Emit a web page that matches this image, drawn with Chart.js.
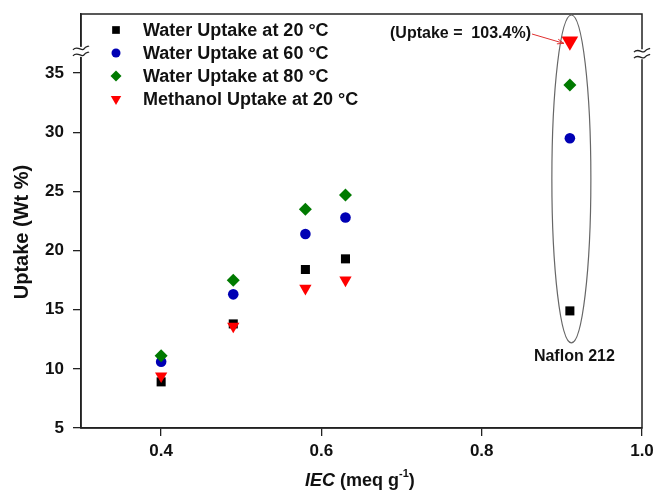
<!DOCTYPE html>
<html lang="en">
<head>
    <meta charset="UTF-8">
    <title>Uptake vs IEC</title>
    <script src="https://cdn.jsdelivr.net/npm/chart.js"></script>
    <style>
        body { margin: 0; background: #fff; }
        canvas { display: block; }
    </style>
</head>
<body>
    <canvas id="uptakeChart" width="655" height="495"></canvas>

    <script>
        // IEC values (meq/g)
        const iec = [0.40, 0.49, 0.58, 0.63, 0.91];
        // uptake values (wt %); last point is Nafion 212
        const water20 = [8.9, 13.8, 18.4, 19.3, 14.9];
        const water60 = [10.6, 16.3, 21.4, 22.8, 29.5];
        const water80 = [11.1, 17.5, 23.5, 24.7, 34.0];
        const methanol20 = [9.4, 13.6, 16.8, 17.5, 37.7]; // last one is 103.4 %, drawn above the axis break
        const yTicks = [5, 10, 15, 20, 25, 30, 35];
        const xTicks = [0.4, 0.6, 0.8, 1.0];
        const seriesNames = ['Water Uptake at 20 \u00B0C', 'Water Uptake at 60 \u00B0C', 'Water Uptake at 80 \u00B0C', 'Methanol Uptake at 20 \u00B0C'];

        const FONT = "Arial, 'Liberation Sans', sans-serif";
        const AXIS = '#222';

        const toPoints = ys => ys.map((y, i) => ({ x: iec[i], y: y }));

        const datasets = [
            { label: seriesNames[0], data: toPoints(water20), pointStyle: 'rect', pointRadius: 6.4, backgroundColor: '#000', borderColor: '#000', order: 4 },
            { label: seriesNames[1], data: toPoints(water60), pointStyle: 'circle', pointRadius: 5.3, backgroundColor: '#0000b4', borderColor: '#0000b4', order: 3 },
            { label: seriesNames[2], data: toPoints(water80), pointStyle: 'rectRot', pointRadius: 6.5, backgroundColor: '#007a00', borderColor: '#007a00', order: 2 },
            { label: seriesNames[3], data: toPoints(methanol20), pointStyle: 'triangle', pointRotation: 180,
              pointRadius: ctx => ctx.dataIndex === 4 ? 9.6 : 7.1, backgroundColor: '#ff0000', borderColor: '#ff0000', order: 1 }
        ];
        datasets.forEach(d => { d.borderWidth = 0; d.pointHoverRadius = d.pointRadius; });

        function drawBreak(ctx, x, y) {
            ctx.save();
            ctx.fillStyle = '#fff';
            ctx.fillRect(x - 3, y - 5, 6, 10);
            ctx.strokeStyle = AXIS;
            ctx.lineWidth = 1.3;
            [-3, 3].forEach(off => {
                ctx.beginPath();
                ctx.moveTo(x - 8, y + off + 1);
                ctx.bezierCurveTo(x - 4, y + off - 4, x + 1, y + off + 3, x + 3, y + off);
                ctx.bezierCurveTo(x + 5, y + off - 3, x + 7, y + off - 2, x + 8, y + off - 3);
                ctx.stroke();
            });
            ctx.restore();
        }

        // keep the plot area where the reference has it
        const noPad = s => { s.paddingTop = 0; s.paddingBottom = 0; s.paddingLeft = 0; s.paddingRight = 0; };

        const extras = {
            id: 'extras',
            afterDraw(chart) {
                const { ctx, chartArea: a, scales: { x, y } } = chart;

                // frame round the plot
                ctx.save();
                ctx.strokeStyle = AXIS;
                ctx.lineWidth = 1.5;
                ctx.strokeRect(a.left, a.top, a.right - a.left, a.bottom - a.top);
                ctx.restore();

                // axis breaks
                drawBreak(ctx, a.left, y.getPixelForValue(36.8));
                drawBreak(ctx, a.right, y.getPixelForValue(36.6));

                // ellipse round the Nafion points
                const cx = x.getPixelForValue(0.91) + 1.5;
                const top = a.top + 1;
                const bottom = y.getPixelForValue(12.2);
                ctx.save();
                ctx.strokeStyle = '#666';
                ctx.lineWidth = 1.2;
                ctx.beginPath();
                ctx.ellipse(cx, (top + bottom) / 2, 19.5, (bottom - top) / 2, 0, 0, Math.PI * 2);
                ctx.stroke();
                ctx.restore();

                ctx.save();
                ctx.fillStyle = '#111';
                ctx.textBaseline = 'middle';

                // Nafion label
                ctx.font = 'bold 16px ' + FONT;
                ctx.textAlign = 'center';
                ctx.fillText('Naflon 212', cx + 3, bottom + 14);

                // annotation with arrow
                ctx.textAlign = 'left';
                ctx.fillText('(Uptake =  103.4%)', 390, 34);
                const tipX = x.getPixelForValue(0.91) - 6, tipY = y.getPixelForValue(37.6) + 1;
                ctx.strokeStyle = '#e03030';
                ctx.fillStyle = '#e03030';
                ctx.lineWidth = 1;
                ctx.beginPath();
                ctx.moveTo(532, 34);
                ctx.lineTo(tipX, tipY);
                ctx.stroke();
                const ang = Math.atan2(tipY - 34, tipX - 532);
                ctx.beginPath();
                ctx.moveTo(tipX, tipY);
                ctx.lineTo(tipX - 7 * Math.cos(ang - 0.35), tipY - 7 * Math.sin(ang - 0.35));
                ctx.moveTo(tipX, tipY);
                ctx.lineTo(tipX - 7 * Math.cos(ang + 0.35), tipY - 7 * Math.sin(ang + 0.35));
                ctx.stroke();

                // legend
                ctx.font = 'bold 18px ' + FONT;
                ctx.fillStyle = '#111';
                datasets.forEach((d, i) => {
                    const rowY = 30 + i * 23;
                    const r = typeof d.pointRadius === 'function' ? 7.1 : d.pointRadius;
                    ctx.save();
                    ctx.fillStyle = d.backgroundColor;
                    ctx.strokeStyle = d.borderColor;
                    Chart.helpers.drawPoint(ctx, { pointStyle: d.pointStyle, rotation: d.pointRotation || 0, radius: r * 0.85, borderWidth: 0 }, 116, rowY);
                    ctx.restore();
                    ctx.fillText(d.label, 143, rowY + 1);
                });

                // axis titles
                ctx.save();
                ctx.translate(22, 232);
                ctx.rotate(-Math.PI / 2);
                ctx.textAlign = 'center';
                ctx.font = 'bold 20px ' + FONT;
                ctx.fillText('Uptake (Wt %)', 0, 0);
                ctx.restore();

                ctx.textBaseline = 'alphabetic';
                let tx = 305;
                const base = 486;
                ctx.font = 'italic bold 18px ' + FONT;
                ctx.fillText('IEC', tx, base);
                tx += ctx.measureText('IEC ').width;
                ctx.font = 'bold 18px ' + FONT;
                ctx.fillText('(meq g', tx, base);
                tx += ctx.measureText('(meq g').width;
                ctx.font = 'bold 11px ' + FONT;
                ctx.fillText('-1', tx, base - 9);
                tx += ctx.measureText('-1').width;
                ctx.font = 'bold 18px ' + FONT;
                ctx.fillText(')', tx, base);
                ctx.restore();
            }
        };

        new Chart(document.getElementById('uptakeChart'), {
            type: 'scatter',
            data: { datasets: datasets },
            options: {
                responsive: false,
                animation: false,
                events: [],
                layout: { padding: { top: 14, right: 13, left: 0, bottom: 0 } },
                plugins: { legend: { display: false }, tooltip: { enabled: false } },
                scales: {
                    x: {
                        type: 'linear',
                        min: 0.3,
                        max: 1.0,
                        afterBuildTicks: s => { s.ticks = xTicks.map(v => ({ value: v })); },
                        afterFit: s => { s.height = 67; noPad(s); },
                        ticks: {
                            callback: v => v.toFixed(1),
                            color: '#111',
                            font: { family: FONT, size: 17, weight: 'bold' },
                            padding: 5,
                            maxRotation: 0
                        },
                        grid: { drawOnChartArea: false, tickLength: 8, color: AXIS, lineWidth: 1.3 },
                        border: { color: AXIS, width: 1.5 }
                    },
                    y: {
                        type: 'linear',
                        min: 5,
                        max: 40,
                        afterBuildTicks: s => { s.ticks = yTicks.map(v => ({ value: v })); },
                        afterFit: s => { s.width = 81; noPad(s); },
                        ticks: {
                            color: '#111',
                            font: { family: FONT, size: 17, weight: 'bold' },
                            padding: 9
                        },
                        grid: { drawOnChartArea: false, tickLength: 8, color: AXIS, lineWidth: 1.3 },
                        border: { color: AXIS, width: 1.5 }
                    }
                }
            },
            plugins: [extras]
        });
    </script>
</body>
</html>
